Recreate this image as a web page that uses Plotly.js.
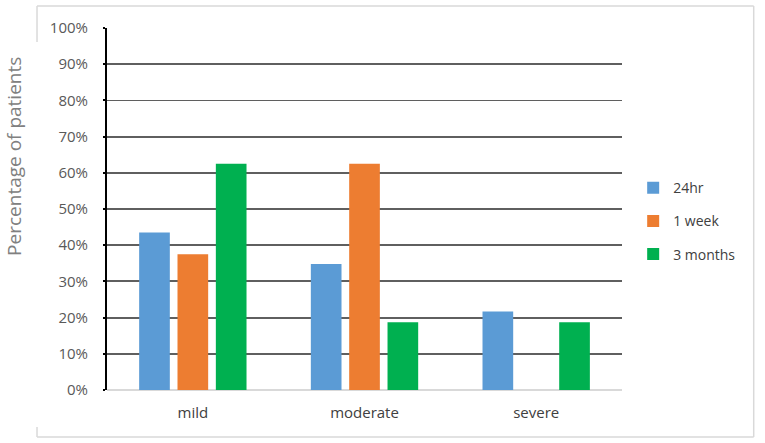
<!DOCTYPE html>
<html>
<head>
<meta charset="utf-8">
<script src="https://cdn.plot.ly/plotly-3.0.1.min.js"></script>
<style>
  html, body { margin: 0; padding: 0; background: #fff; }
  #chart { width: 765px; height: 443px; }
</style>
</head>
<body>
<div id="chart"></div>
<script>
  // Share of patients by severity, at three follow-up points
  const categories = ["mild", "moderate", "severe"];
  const seriesNames = ["24hr", "1 week", "3 months"];
  const vals24hr = [0.435, 0.348, 0.217];
  const vals1week = [0.375, 0.625, 0];
  const vals3months = [0.625, 0.1875, 0.1875];
  const yTicks = [0, 0.1, 0.2, 0.3, 0.4, 0.5, 0.6, 0.7, 0.8, 0.9, 1];

  const COLORS = ["#5B9BD5", "#ED7D31", "#00B050"];
  const FONT = "Open Sans, Noto Sans, sans-serif";

  const traces = [vals24hr, vals1week, vals3months].map((v, i) => ({
    type: "bar",
    x: categories,
    y: v,
    name: seriesNames[i],
    legendgroup: "g" + i,
    marker: { color: COLORS[i], line: { width: 0 } },
  }));

  // outer frame, with the left edge broken where the axis title sits
  const frame = { type: "line", xref: "paper", yref: "paper", line: { color: "#d9d9d9", width: 1.5 } };
  const L = -0.108, R = 0.998, T = 1.061, B = -0.13;
  const shapes = [
    Object.assign({}, frame, { x0: L, x1: R, y0: T, y1: T }),
    Object.assign({}, frame, { x0: L, x1: R, y0: B, y1: B }),
    Object.assign({}, frame, { x0: R, x1: R, y0: B, y1: T }),
    Object.assign({}, frame, { x0: L, x1: L, y0: 0.961, y1: T }),
    Object.assign({}, frame, { x0: L, x1: L, y0: B, y1: -0.102 }),
  ];

  const layout = {
    width: 765,
    height: 443,
    paper_bgcolor: "#fff",
    plot_bgcolor: "#fff",
    font: { family: FONT, size: 14, color: "#595959" },
    margin: { l: 107, r: 10, t: 28, b: 53 },
    barmode: "group",
    bargap: 0.33,
    bargroupgap: 0.2,
    showlegend: true,
    legend: {
      x: 0.812, y: 0.602, xanchor: "left", yanchor: "top",
      font: { size: 14, color: "#404040" },
      traceorder: "grouped",
      tracegroupgap: 12,
      bgcolor: "rgba(0,0,0,0)",
    },
    xaxis: {
      type: "category",
      domain: [0, 0.7948],
      showgrid: false,
      showline: false,
      ticks: "",
      ticklabelstandoff: 12,
      tickfont: { size: 15, color: "#404040" },
      fixedrange: true,
    },
    yaxis: {
      range: [0, 1],
      tickvals: yTicks,
      tickformat: ".0%",
      showgrid: true,
      gridcolor: "#5f5f5f",
      gridwidth: 1.8,
      zeroline: true,
      zerolinecolor: "#d9d9d9",
      zerolinewidth: 2,
      showline: true,
      linecolor: "#000",
      linewidth: 2,
      ticks: "outside",
      ticklen: 2,
      tickcolor: "#000",
      tickwidth: 2,
      ticklabelstandoff: 12,
      tickfont: { size: 15, color: "#595959" },
      fixedrange: true,
    },
    shapes: shapes,
    annotations: [{
      text: "Percentage of patients",
      xref: "paper", yref: "paper",
      x: -0.1435, y: 0.644,
      xanchor: "center", yanchor: "middle",
      textangle: -90,
      showarrow: false,
      font: { size: 19, color: "#808080" },
    }],
  };

  Plotly.newPlot("chart", traces, layout, { displayModeBar: false, staticPlot: true });
</script>
</body>
</html>
